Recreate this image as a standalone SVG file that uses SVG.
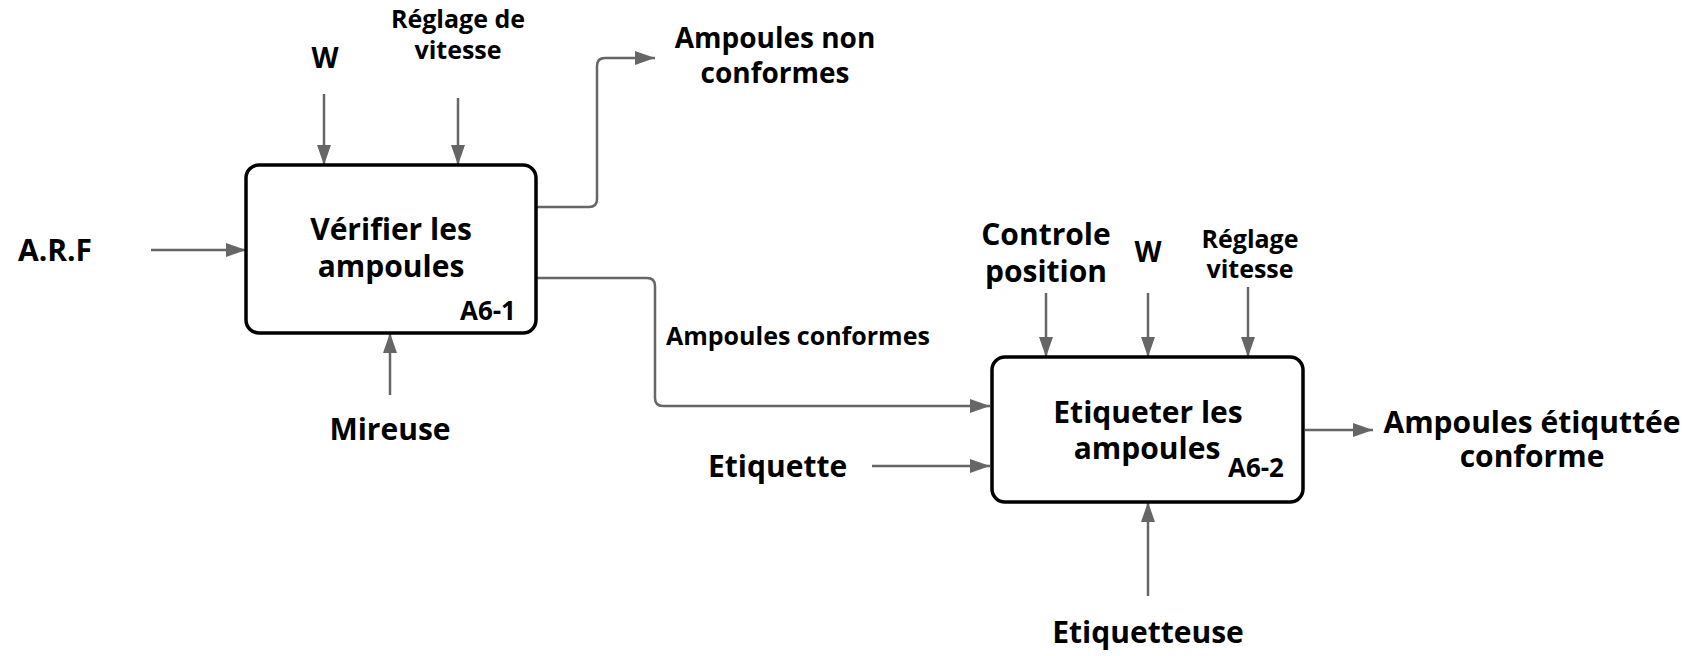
<svg xmlns="http://www.w3.org/2000/svg" width="1691" height="656" viewBox="0 0 1691 656">
  <style>
    .box { fill: #ffffff; stroke: #000000; stroke-width: 3.5; }
    .conn { fill: none; stroke: #666666; stroke-width: 2.5; marker-end: url(#arrow); }
    text { font-family: "Open Sans", "Liberation Sans", sans-serif; font-weight: 700; fill: #000000; }
    .mid { text-anchor: middle; }
    .end { text-anchor: end; }
    .big { font-size: 30px; }
    .lbl { font-size: 28px; }
    .sm { font-size: 25px; }
    .code { font-size: 26px; }
  </style>
  <defs>
    <marker id="arrow" markerUnits="userSpaceOnUse" markerWidth="20" markerHeight="14" refX="20" refY="7" orient="auto">
      <path d="M0,0 L20,7 L0,14 Z" fill="#666666"/>
    </marker>
  </defs>

  <rect width="1691" height="656" fill="#ffffff"/>

  <!-- connectors -->
  <g id="connectors">
    <path class="conn" d="M324,94 V165"/>
    <path class="conn" d="M458,98 V165"/>
    <path class="conn" d="M151,250 H246"/>
    <path class="conn" d="M390,395 V333"/>
    <path class="conn" d="M536,207 H589 Q597,207 597,199 V66 Q597,58 605,58 H655"/>
    <path class="conn" d="M536,278 H647 Q655,278 655,286 V398 Q655,406 663,406 H990"/>
    <path class="conn" d="M872,466 H990"/>
    <path class="conn" d="M1046,293 V357"/>
    <path class="conn" d="M1148,293 V357"/>
    <path class="conn" d="M1248,287 V357"/>
    <path class="conn" d="M1305,430 H1373"/>
    <path class="conn" d="M1148,596 V502"/>
  </g>

  <!-- activity A6-1 -->
  <g id="node-a6-1">
    <rect class="box" x="246" y="165" width="290" height="168" rx="13"/>
    <text class="big mid" x="391" y="240">Vérifier les</text>
    <text class="big mid" x="391" y="277">ampoules</text>
    <text class="code end" x="516" y="320">A6-1</text>
  </g>

  <!-- activity A6-2 -->
  <g id="node-a6-2">
    <rect class="box" x="992" y="357" width="311" height="145" rx="13"/>
    <text class="big mid" x="1148" y="423">Etiqueter les</text>
    <text class="big mid" x="1147" y="459">ampoules</text>
    <text class="code end" x="1284" y="477">A6-2</text>
  </g>

  <!-- flow labels -->
  <g id="label-w1"><text class="lbl mid" x="325" y="68">W</text></g>
  <g id="label-reglage1">
    <text class="sm mid" x="458" y="28">Réglage de</text>
    <text class="sm mid" x="458" y="59">vitesse</text>
  </g>
  <g id="label-arf"><text class="big" x="18" y="261">A.R.F</text></g>
  <g id="label-mireuse"><text class="big mid" x="390" y="440">Mireuse</text></g>
  <g id="label-non-conformes">
    <text class="lbl mid" x="775" y="48">Ampoules non</text>
    <text class="lbl mid" x="775" y="83">conformes</text>
  </g>
  <g id="label-conformes"><text class="sm" x="666" y="345">Ampoules conformes</text></g>
  <g id="label-etiquette"><text class="big" x="708" y="477">Etiquette</text></g>
  <g id="label-controle">
    <text class="big mid" x="1046" y="245">Controle</text>
    <text class="big mid" x="1046" y="282">position</text>
  </g>
  <g id="label-w2"><text class="lbl mid" x="1148" y="262">W</text></g>
  <g id="label-reglage2">
    <text class="sm mid" x="1250" y="248">Réglage</text>
    <text class="sm mid" x="1250" y="278">vitesse</text>
  </g>
  <g id="label-sortie">
    <text class="big mid" x="1532" y="433">Ampoules étiquttée</text>
    <text class="big mid" x="1532" y="467">conforme</text>
  </g>
  <g id="label-etiquetteuse"><text class="big mid" x="1148" y="643">Etiquetteuse</text></g>
</svg>
